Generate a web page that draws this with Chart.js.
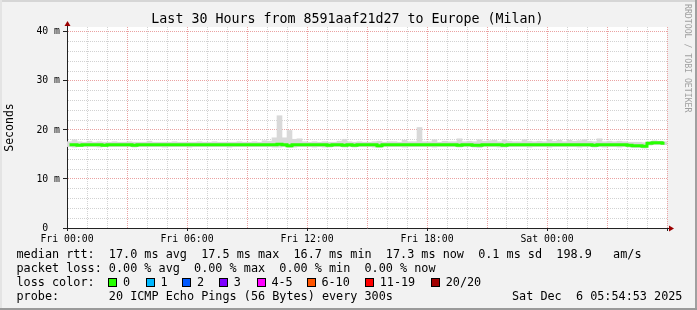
<!DOCTYPE html>
<html>
<head>
<meta charset="utf-8">
<script src="https://cdn.jsdelivr.net/npm/chart.js@4.4.1/dist/chart.umd.min.js"></script>
<style>
  html, body { margin: 0; padding: 0; background: #f2f2f2; }
  #frame { position: relative; width: 697px; height: 310px; background: #f2f2f2; overflow: hidden;
           font-family: "DejaVu Sans Mono", monospace; color: #000; }
  #chart { position: absolute; left: 0; top: 0; }
  .txt { position: absolute; white-space: pre; font-size: 11.8px; line-height: 14px; }
  #title { position: absolute; left: 0; top: 11px; width: 695px; text-align: center;
           font-size: 13.3px; line-height: 16px; white-space: pre; }
  #mark { position: absolute; left: 683px; top: 4px; writing-mode: vertical-rl; font-size: 8.2px;
          color: #a0a0a0; white-space: pre; line-height: 10px; }
  .box { position: absolute; top: 277.5px; width: 9px; height: 9px; box-sizing: border-box; border: 1px solid #000; }
  .edge { position: absolute; }
</style>
</head>
<body>
<div id="frame">
  <canvas id="chart" width="697" height="310"></canvas>
  <div id="title">Last 30 Hours from 8591aaf21d27 to Europe (Milan)</div>
  <div id="mark">RRDTOOL / TOBI OETIKER</div>
  <div id="legend"></div>
  <div class="edge" style="left:0;top:0;width:697px;height:2px;background:#d6d6d6"></div>
  <div class="edge" style="left:0;top:0;width:2px;height:310px;background:#e4e4e4"></div>
  <div class="edge" style="left:695px;top:0;width:2px;height:310px;background:#a0a0a0"></div>
  <div class="edge" style="left:0;top:308px;width:697px;height:2px;background:#9a9a9a"></div>
</div>
<script>
// median rtt per 15 minute slot, ms (slot 0 = Fri 00:00)
var medianRtt = [
  17.0, 17.0, 16.9, 17.0, 17.0, 17.0, 17.0, 16.9, 17.0, 17.0,
  17.0, 17.0, 17.0, 16.9, 17.0, 17.0, 17.0, 17.0, 17.0, 17.0,
  17.0, 17.0, 17.0, 17.0, 17.0, 17.0, 17.0, 17.0, 17.0, 17.0,
  17.0, 17.0, 17.0, 17.0, 17.0, 17.0, 17.0, 17.0, 17.0, 17.0,
  17.0, 17.0, 17.1, 17.0, 16.8, 17.0, 17.0, 17.0, 17.0, 17.0,
  17.0, 17.0, 16.9, 17.0, 17.0, 16.9, 17.0, 16.9, 17.0, 17.0,
  17.0, 17.0, 16.8, 17.0, 17.0, 17.0, 17.0, 17.0, 17.0, 17.0,
  17.0, 17.0, 17.0, 17.0, 17.0, 17.0, 17.0, 17.0, 16.9, 17.0,
  17.0, 16.9, 16.9, 17.0, 17.0, 17.0, 17.0, 16.9, 17.0, 17.0,
  17.0, 17.0, 17.0, 17.0, 17.0, 17.0, 17.0, 17.0, 17.0, 17.0,
  17.0, 17.0, 17.0, 17.0, 17.0, 16.9, 17.0, 17.0, 17.0, 17.0,
  17.0, 17.0, 16.9, 16.8, 16.8, 16.7, 17.3, 17.4, 17.4, 17.3
];
// smoke: lowest and highest ping of each slot, ms
var smokeLow = [
  16.6, 16.5, 16.6, 16.6, 16.6, 16.6, 16.5, 16.6, 16.6, 16.6,
  16.6, 16.6, 16.6, 16.5, 16.6, 16.6, 16.6, 16.6, 16.6, 16.5,
  16.6, 16.6, 16.6, 16.6, 16.5, 16.6, 16.6, 16.6, 16.6, 16.6,
  16.6, 16.6, 16.5, 16.6, 16.6, 16.6, 16.6, 16.6, 16.6, 16.6,
  16.6, 16.5, 16.5, 16.6, 16.4, 16.5, 16.6, 16.6, 16.6, 16.5,
  16.6, 16.5, 16.5, 16.6, 16.6, 16.5, 16.6, 16.5, 16.6, 16.6,
  16.6, 16.5, 16.4, 16.6, 16.6, 16.6, 16.6, 16.5, 16.6, 16.6,
  16.6, 16.6, 16.6, 16.5, 16.6, 16.6, 16.6, 16.6, 16.5, 16.6,
  16.6, 16.5, 16.4, 16.6, 16.6, 16.6, 16.5, 16.5, 16.6, 16.6,
  16.6, 16.6, 16.5, 16.6, 16.6, 16.6, 16.5, 16.6, 16.6, 16.6,
  16.6, 16.6, 16.5, 16.6, 16.6, 16.5, 16.6, 16.5, 16.6, 16.6,
  16.5, 16.6, 16.5, 16.4, 16.4, 16.3, 16.9, 17.0, 17.0, 17.0
];
var smokeHigh = [
  17.6, 18.0, 17.6, 17.5, 17.7, 17.5, 17.6, 17.5, 17.5, 17.6,
  17.5, 17.5, 17.6, 17.5, 17.5, 17.5, 17.7, 17.5, 17.5, 17.5,
  17.5, 17.6, 17.5, 17.5, 17.5, 17.5, 17.6, 17.5, 17.5, 17.6,
  17.5, 17.5, 17.5, 17.5, 17.6, 17.5, 17.5, 17.6, 17.5, 17.8,
  17.7, 18.4, 22.9, 18.4, 19.9, 18.1, 18.2, 17.6, 17.5, 17.6,
  17.5, 17.6, 17.5, 17.5, 17.7, 18.1, 17.6, 17.5, 17.6, 17.5,
  17.5, 17.6, 17.7, 17.5, 17.6, 17.6, 17.5, 17.9, 17.6, 17.6,
  20.5, 17.6, 17.6, 18.0, 17.5, 17.7, 17.6, 17.6, 18.2, 17.6,
  17.7, 17.6, 18.0, 17.7, 17.8, 17.9, 17.6, 18.0, 17.7, 17.6,
  17.6, 18.0, 17.7, 17.6, 17.7, 17.6, 18.0, 17.7, 17.9, 17.6,
  17.9, 17.7, 17.8, 18.0, 17.7, 17.6, 18.2, 17.6, 17.7, 17.6,
  17.7, 17.6, 17.5, 17.5, 17.5, 17.4, 17.6, 17.8, 17.7, 17.6
];
// x axis labels, keyed by hours since Fri 00:00
var timeLabels = {0: 'Fri 00:00', 6: 'Fri 06:00', 12: 'Fri 12:00', 18: 'Fri 18:00', 24: 'Sat 00:00'};

var lossNames = ['0', '1', '2', '3', '4-5', '6-10', '11-19', '20/20'];
var lossColors = ['#26ff00', '#00b8ff', '#0059ff', '#7e00ff', '#ff00ff', '#ff5500', '#ff0000', '#a10000'];

var legendLines = [
  'median rtt:  17.0 ms avg  17.5 ms max  16.7 ms min  17.3 ms now  0.1 ms sd  198.9   am/s',
  'packet loss: 0.00 % avg  0.00 % max  0.00 % min  0.00 % now',
  'loss color:',
  'probe:       20 ICMP Echo Pings (56 Bytes) every 300s'
];
var stampText = 'Sat Dec  6 05:54:53 2025';

// slot centres in hours
var slotHours = medianRtt.map(function(v, i) { return i * 0.25 + 0.125; });

// legend text
var legend = document.getElementById('legend');
var lineTops = [247, 261, 275, 289];
legendLines.forEach(function(t, i) {
    var d = document.createElement('div');
    d.className = 'txt';
    d.style.left = '16.5px';
    d.style.top = lineTops[i] + 'px';
    d.textContent = t;
    legend.appendChild(d);
});
var boxLeft = [108.3, 145.7, 182.3, 219, 256.7, 306.7, 365, 431];
lossNames.forEach(function(name, i) {
    var b = document.createElement('div');
    b.className = 'box';
    b.style.left = boxLeft[i] + 'px';
    b.style.background = lossColors[i];
    legend.appendChild(b);
    var t = document.createElement('div');
    t.className = 'txt';
    t.style.left = (boxLeft[i] + 14.7) + 'px';
    t.style.top = '275px';
    t.textContent = name;
    legend.appendChild(t);
});
var stamp = document.createElement('div');
stamp.className = 'txt';
stamp.style.left = '512px';
stamp.style.top = '289px';
stamp.textContent = stampText;
legend.appendChild(stamp);

var MINOR = '#d2d2d2';
var MAJOR = '#eaa2a2';
var tickFont = {family: 'DejaVu Sans Mono', size: 9.8};

// white canvas + axis arrows like rrdtool
var rrdFrame = {
    id: 'rrdFrame',
    beforeDraw: function(chart) {
        var ctx = chart.ctx, a = chart.chartArea;
        ctx.save();
        ctx.fillStyle = '#ffffff';
        ctx.fillRect(a.left, a.top, a.right - a.left, a.bottom - a.top);
        ctx.restore();
    },
    afterDraw: function(chart) {
        var ctx = chart.ctx, a = chart.chartArea;
        var x = Math.round(a.left) + 0.5, y = Math.round(a.bottom) + 0.5;
        ctx.save();
        ctx.strokeStyle = '#222';
        ctx.lineWidth = 1;
        ctx.beginPath();
        ctx.moveTo(x, a.top); ctx.lineTo(x, a.top - 2);
        ctx.moveTo(a.right, y); ctx.lineTo(a.right + 3, y);
        ctx.stroke();
        ctx.fillStyle = '#9b0000';
        ctx.beginPath();
        ctx.moveTo(x, a.top - 6);
        ctx.lineTo(x - 3, a.top - 1);
        ctx.lineTo(x + 3, a.top - 1);
        ctx.closePath();
        ctx.fill();
        ctx.beginPath();
        ctx.moveTo(a.right + 7, y);
        ctx.lineTo(a.right + 2, y - 3);
        ctx.lineTo(a.right + 2, y + 3);
        ctx.closePath();
        ctx.fill();
        ctx.restore();
    }
};

new Chart(document.getElementById('chart'), {
    type: 'line',
    data: {
        datasets: [{
            type: 'line',
            label: 'median rtt',
            data: slotHours.map(function(h, i) { return {x: h, y: medianRtt[i]}; }),
            borderColor: '#26ff00',
            borderWidth: 3,
            pointRadius: 0,
            stepped: 'middle',
            order: 0
        }, {
            type: 'bar',
            label: 'smoke',
            data: slotHours.map(function(h, i) { return {x: h, y: [smokeLow[i], smokeHigh[i]]}; }),
            backgroundColor: '#d9d9d9',
            borderWidth: 0,
            barPercentage: 1,
            categoryPercentage: 1,
            grouped: false,
            order: 1
        }]
    },
    options: {
        responsive: false,
        animation: false,
        layout: {padding: {left: 0, right: 30, top: 27, bottom: 62}},
        plugins: {legend: {display: false}, tooltip: {enabled: false}, title: {display: false}},
        scales: {
            x: {
                type: 'linear',
                min: 0,
                max: 30,
                offset: false,
                afterFit: function(s) { s.height = 20; },
                border: {display: true, color: '#222', width: 1, dash: [1, 1]},
                grid: {
                    offset: false,
                    color: function(c) { return c.tick && c.tick.value % 3 === 0 ? MAJOR : MINOR; },
                    tickLength: 3,
                    tickColor: function(c) { return c.tick && c.tick.value % 6 === 0 ? '#222' : 'rgba(0,0,0,0)'; }
                },
                ticks: {
                    stepSize: 1,
                    maxTicksLimit: 100,
                    autoSkip: false,
                    maxRotation: 0,
                    padding: 3,
                    color: '#000',
                    font: tickFont,
                    callback: function(v) { return timeLabels[v] || ''; }
                }
            },
            y: {
                min: 0,
                max: 41,
                afterFit: function(s) { s.width = 67; },
                border: {display: true, color: '#222', width: 1, dash: [1, 1]},
                grid: {
                    color: function(c) { return c.tick && c.tick.value % 10 === 0 ? MAJOR : MINOR; },
                    tickLength: 4,
                    tickColor: function(c) { return c.tick && c.tick.value % 10 === 0 ? '#222' : 'rgba(0,0,0,0)'; }
                },
                title: {
                    display: true,
                    text: 'Seconds',
                    color: '#000',
                    font: {family: 'DejaVu Sans Mono', size: 11.5},
                    padding: {top: 3, bottom: 0}
                },
                ticks: {
                    stepSize: 2,
                    maxTicksLimit: 100,
                    includeBounds: false,
                    autoSkip: false,
                    padding: 3,
                    color: '#000',
                    font: tickFont,
                    callback: function(v) {
                        if (v % 10 !== 0) return '';
                        return v === 0 ? '0  ' : v + ' m';
                    }
                }
            }
        }
    },
    plugins: [rrdFrame]
});
</script>
</body>
</html>
